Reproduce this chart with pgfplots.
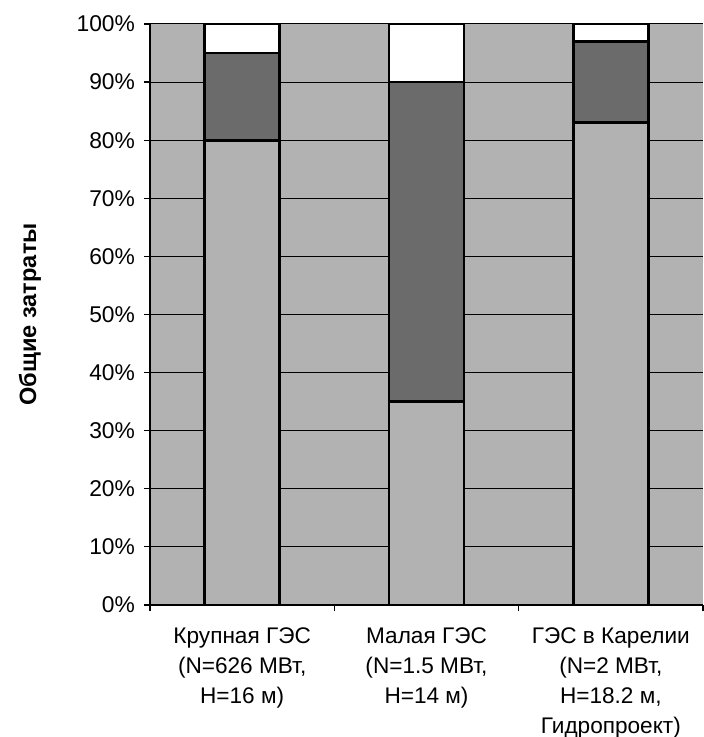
\documentclass[border=0pt]{standalone}
\usepackage{fontspec}
\setmainfont{Liberation Sans}
\usepackage{pgfplots}
\pgfplotsset{compat=1.18}
\definecolor{bgc}{gray}{0.7}
\definecolor{midc}{gray}{0.42}
\begin{document}
\begin{tikzpicture}
\begin{axis}[
  at={(0,0)}, anchor=south west,
  scale only axis, width=276.5pt, height=290.5pt,
  xmin=-0.5, xmax=2.5, ymin=0, ymax=100,
  ybar stacked, bar width=37.5pt,
  axis background/.style={fill=bgc},
  axis x line*=bottom, axis y line*=left,
  axis line style={line width=0.6pt},
  xtick={0,1,2},
  xticklabels={{Крупная ГЭС\\(N=626 МВт,\\H=16 м)},{Малая ГЭС\\(N=1.5 МВт,\\H=14 м)},{ГЭС в Карелии\\(N=2 МВт,\\H=18.2 м,\\Гидропроект)}},
  xticklabel style={align=center, font=\fontsize{11.3}{15}\selectfont, yshift=-5pt},
  major x tick style={draw=none},
  minor xtick={-0.5,0.5,1.5,2.5},
  minor tick length=3pt,
  tick align=outside,
  major tick length=3pt,
  ytick={0,10,...,100},
  yticklabel={\pgfmathprintnumber{\tick}\%},
  yticklabel style={font=\fontsize{11.4}{12}\selectfont, xshift=-1pt},
  /pgf/number format/assume math mode=true,
  ymajorgrids, grid style={black, line width=0.5pt},
  ylabel={Общие затраты},
  every axis y label/.style={at={(axis description cs:0,0.5)}, xshift=-60pt, rotate=90, anchor=center, font=\fontsize{11.8}{14}\selectfont\bfseries},
  tick style={black, line width=0.6pt},
]
\addplot[fill=bgc, draw=black, line width=1.4pt] coordinates {(0,80) (1,35) (2,83)};
\addplot[fill=midc, draw=black, line width=1.4pt] coordinates {(0,15) (1,55) (2,14)};
\addplot[fill=white, draw=black, line width=1.4pt] coordinates {(0,5) (1,10) (2,3)};
\end{axis}
\pgfresetboundingbox
\path (-75pt,-66pt) rectangle (277pt,302.5pt);
\end{tikzpicture}
\end{document}
